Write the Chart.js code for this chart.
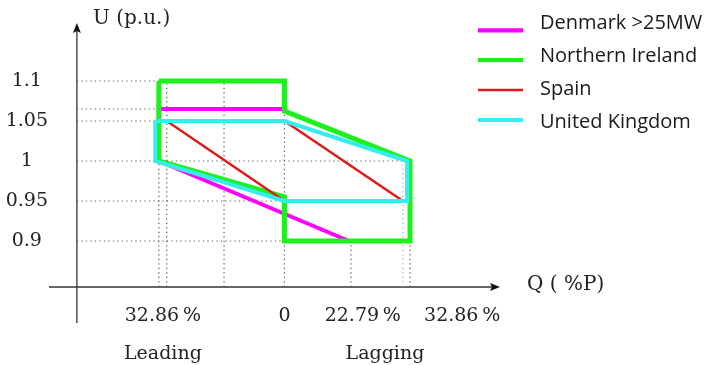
<!DOCTYPE html>
<html><head><meta charset="utf-8">
<script src="https://cdn.jsdelivr.net/npm/chart.js@4.4.1/dist/chart.umd.min.js"></script>
<style>html,body{margin:0;padding:0;background:#fff}#wrap{width:707px;height:365px;position:relative}</style>
</head><body><div id="wrap"><canvas id="c"></canvas></div>
<script>
// ---- data (Q in schematic % units, U in p.u.) ----
const seriesNames = ['Denmark >25MW', 'Northern Ireland', 'Spain', 'United Kingdom'];
const seriesColors = ['#ff00ff', '#1ef01e', '#e01a1a', '#33eeee'];
const denmarkQ = [0, -32.86, -32.86, 16.9];
const denmarkU = [1.065, 1.065, 1.0, 0.9];
const irelandQ = [-32.86, 0, 0, 32.86, 32.86, 0, 0, -32.86, -32.86];
const irelandU = [1.1, 1.1, 1.0625, 1.0, 0.9, 0.9, 0.955, 1.0, 1.1];
const spainQ = [-30.8, 0, 31.0, 0, -30.8];
const spainU = [1.05, 1.05, 0.95, 0.95, 1.05];
const ukQ = [-33.8, 0, 32.1, 32.1, 0, -33.8, -33.8];
const ukU = [1.05, 1.05, 1.0, 0.95, 0.95, 1.0, 1.05];

const yTickValues = [0.9, 0.95, 1.0, 1.05, 1.1];
const yTickLabels = ['0.9', '0.95', '1', '1.05', '1.1'];
const xTickValues = [-31.8, 0, 20.5, 46.5];
const xTickLabels = ['32.86\u2009%', '0', '22.79\u2009%', '32.86\u2009%'];
const sideQ = [-31.8, 26.3];
const sideLabels = ['Leading', 'Lagging'];

// dotted guide lines
const guideU = [1.1, 1.065, 1.05, 1.0, 0.95, 0.9];
const guideUEndQ = [-32.86, 0, -33.8, 32.1, 0, 0];
const guideQ = [-32.86, -30.8, -15.8, 0, 17.4, 31.0, 32.86];
const guideQEndU = [1.0, 1.1, 1.1, 1.065, 0.9, 1.0, 0.9];

// axis extents
const qMin = -61.6, qMax = 56.4, uMin = 0.8425, uMax = 1.1725, yAxisQ = -54.3;

// ---- build datasets ----
const pts = (qs, us) => qs.map((q, i) => ({x: q, y: us[i]}));
const seriesData = [pts(denmarkQ, denmarkU), pts(irelandQ, irelandU), pts(spainQ, spainU), pts(ukQ, ukU)];
const seriesWidths = [4, 5, 2.5, 4];
const seriesOrder = [4, 3, 2, 1];

const datasets = [];
seriesData.forEach((d, i) => datasets.push({
  label: seriesNames[i], data: d, showLine: true, borderColor: seriesColors[i],
  backgroundColor: seriesColors[i], borderWidth: seriesWidths[i], pointRadius: 0,
  pointHoverRadius: 0, tension: 0, fill: false, borderJoinStyle: 'miter', borderCapStyle: 'butt',
  order: seriesOrder[i]
}));
const guideStyle = {showLine: true, borderColor: '#555', borderWidth: 1.2, borderDash: [1.2, 3.3],
  pointRadius: 0, pointHoverRadius: 0, fill: false, order: 10, isGuide: true};
guideU.forEach((u, i) => datasets.push(Object.assign({label: 'g', data: [{x: yAxisQ, y: u}, {x: guideUEndQ[i], y: u}]}, guideStyle)));
guideQ.forEach((q, i) => datasets.push(Object.assign({label: 'g', data: [{x: q, y: uMin}, {x: q, y: guideQEndU[i]}]}, guideStyle,
  q === 31.0 ? {borderColor: '#aaa'} : {})));

const serif = "'DejaVu Serif', serif";
const overlay = {
  id: 'overlay',
  beforeDatasetsDraw(chart) {
    const {ctx, chartArea: a, scales: {x, y}} = chart;
    const ax = x.getPixelForValue(yAxisQ);
    const ay = y.getPixelForValue(uMin);
    ctx.save();
    ctx.strokeStyle = '#333'; ctx.fillStyle = '#111'; ctx.lineWidth = 1.3;
    ctx.beginPath(); ctx.moveTo(a.left, ay); ctx.lineTo(a.right - 6, ay); ctx.stroke();
    ctx.beginPath(); ctx.moveTo(a.right, ay); ctx.lineTo(a.right - 10, ay - 4); ctx.lineTo(a.right - 8, ay); ctx.lineTo(a.right - 10, ay + 4); ctx.closePath(); ctx.fill();
    ctx.beginPath(); ctx.moveTo(ax, a.bottom + 36); ctx.lineTo(ax, a.top + 6); ctx.stroke();
    ctx.beginPath(); ctx.moveTo(ax, a.top); ctx.lineTo(ax - 4, a.top + 10); ctx.lineTo(ax, a.top + 8); ctx.lineTo(ax + 4, a.top + 10); ctx.closePath(); ctx.fill();
    ctx.restore();
  },
  afterDraw(chart) {
    const {ctx, chartArea: a, scales: {x}} = chart;
    ctx.save();
    ctx.fillStyle = '#222';
    ctx.font = "20px " + serif;
    ctx.textAlign = 'left'; ctx.textBaseline = 'alphabetic';
    ctx.fillText('U (p.u.)', 93, 24);
    ctx.fillText('Q ( %P)', a.right + 27, a.bottom + 3);
    ctx.font = "19px " + serif; ctx.textAlign = 'center';
    sideLabels.forEach((t, i) => ctx.fillText(t, x.getPixelForValue(sideQ[i]), a.bottom + 72));
    // legend
    ctx.font = "20px 'Open Sans', sans-serif"; ctx.textAlign = 'left';
    seriesNames.forEach((n, i) => {
      const ly = 30.3 + 29.9 * i;
      ctx.strokeStyle = seriesColors[i]; ctx.lineWidth = seriesWidths[i] === 2.5 ? 2.5 : 4.2; ctx.lineCap = 'butt';
      ctx.beginPath(); ctx.moveTo(478, ly); ctx.lineTo(523, ly); ctx.stroke();
      ctx.fillStyle = '#1a1a1a';
      ctx.fillText(n, 540, 29.3 + 33 * i);
    });
    ctx.restore();
  }
};

new Chart(document.getElementById('c'), {
  type: 'scatter',
  data: {datasets},
  options: {
    responsive: true, maintainAspectRatio: false, animation: false,
    layout: {padding: {top: 23, right: 207, bottom: 0, left: 0}},
    plugins: {legend: {display: false}, tooltip: {enabled: false}, title: {display: false}},
    events: [],
    scales: {
      x: {
        type: 'linear', min: qMin, max: qMax,
        grid: {display: false, drawTicks: false}, border: {display: false},
        afterBuildTicks: s => { s.ticks = xTickValues.map(v => ({value: v})); },
        afterFit: s => { s.height = 78; },
        ticks: {autoSkip: false, maxRotation: 0, padding: 18, color: '#222',
          font: {family: serif, size: 19}, callback: (v, i) => xTickLabels[i]}
      },
      y: {
        type: 'linear', min: uMin, max: uMax,
        grid: {display: false, drawTicks: false}, border: {display: false},
        afterBuildTicks: s => { s.ticks = yTickValues.map(v => ({value: v})); },
        afterFit: s => { s.width = 49; },
        ticks: {autoSkip: false, crossAlign: 'center', padding: 1, color: '#222',
          font: {family: serif, size: 19}, callback: (v, i) => yTickLabels[i]}
      }
    }
  },
  plugins: [overlay]
});
</script></body></html>
